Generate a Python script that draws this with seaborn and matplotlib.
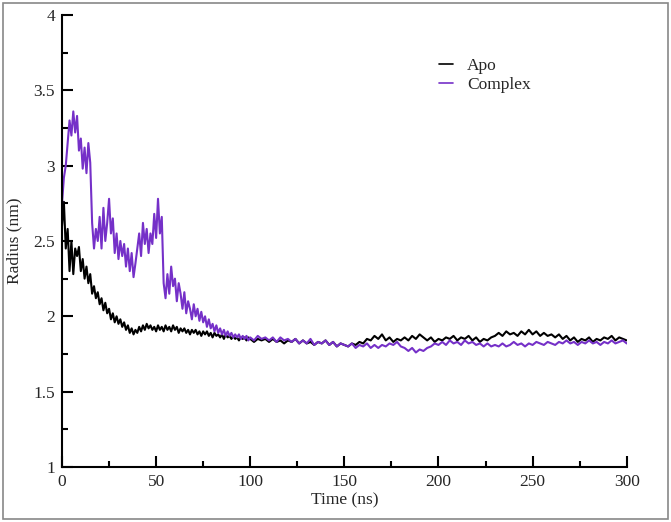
import numpy as np
import pandas as pd
import matplotlib.pyplot as plt
import seaborn as sns
from matplotlib.patches import Rectangle

# === DATA ===
TIME_EARLY = np.arange(0, 101, 1)      # 0..100 ns, 1 ns steps
TIME_LATE = np.arange(102, 301, 2)     # 102..300 ns, 2 ns steps

COMPLEX_EARLY = [
    2.75, 2.92, 3.00, 3.15, 3.30, 3.20, 3.36, 3.22, 3.33, 3.10,
    3.18, 2.98, 3.12, 2.95, 3.15, 3.02, 2.62, 2.45, 2.58, 2.50,
    2.66, 2.45, 2.72, 2.50, 2.62, 2.78, 2.55, 2.65, 2.42, 2.55,
    2.38, 2.50, 2.40, 2.48, 2.33, 2.45, 2.30, 2.42, 2.26, 2.35,
    2.45, 2.55, 2.40, 2.62, 2.48, 2.58, 2.42, 2.55, 2.48, 2.68,
    2.52, 2.78, 2.55, 2.66, 2.22, 2.12, 2.28, 2.15, 2.33, 2.20,
    2.25, 2.10, 2.22, 2.15, 2.05, 2.16, 2.02, 2.10, 2.05, 1.98,
    2.08, 2.00, 2.05, 1.97, 2.03, 1.96, 2.00, 1.93, 1.98, 1.92,
    1.95, 1.90, 1.94, 1.89, 1.92, 1.88, 1.91, 1.87, 1.90, 1.87,
    1.89, 1.86, 1.88, 1.86, 1.88, 1.85, 1.87, 1.85, 1.87, 1.84,
    1.86,
]
COMPLEX_LATE = [
    1.84, 1.87, 1.85, 1.86, 1.84, 1.86, 1.83, 1.86, 1.84, 1.85, 1.83, 1.85,
    1.82, 1.84, 1.82, 1.85, 1.81, 1.83, 1.82, 1.84, 1.81, 1.83, 1.80, 1.82, 1.81,
    1.80, 1.82, 1.79, 1.81, 1.80, 1.82, 1.79, 1.81, 1.79, 1.81, 1.80, 1.82, 1.81, 1.83, 1.80,
    1.79, 1.77, 1.79, 1.76, 1.78, 1.77, 1.79, 1.80, 1.82, 1.81,
    1.83, 1.81, 1.84, 1.82, 1.83, 1.81, 1.84, 1.82, 1.83, 1.81, 1.82, 1.80, 1.82, 1.80, 1.81,
    1.80, 1.82, 1.80, 1.81, 1.83, 1.81, 1.82, 1.80, 1.82, 1.81, 1.83, 1.82, 1.81, 1.83, 1.82,
    1.81, 1.83, 1.82, 1.84, 1.82, 1.83, 1.81, 1.83, 1.82, 1.84,
    1.82, 1.83, 1.81, 1.83, 1.82, 1.84, 1.82, 1.83, 1.84, 1.82,
]

APO_EARLY = [
    2.60, 2.76, 2.45, 2.58, 2.30, 2.50, 2.28, 2.45, 2.40, 2.46,
    2.30, 2.38, 2.25, 2.33, 2.22, 2.28, 2.15, 2.20, 2.12, 2.16,
    2.08, 2.12, 2.04, 2.09, 2.02, 2.05, 1.98, 2.02, 1.96, 2.00,
    1.95, 1.98, 1.93, 1.96, 1.91, 1.94, 1.89, 1.92, 1.88, 1.91,
    1.89, 1.93, 1.90, 1.94, 1.91, 1.95, 1.92, 1.94, 1.91, 1.93,
    1.90, 1.94, 1.91, 1.93, 1.90, 1.94, 1.91, 1.93, 1.90, 1.94,
    1.91, 1.93, 1.89, 1.92, 1.90, 1.92, 1.89, 1.91, 1.88, 1.91,
    1.89, 1.91, 1.88, 1.90, 1.87, 1.90, 1.88, 1.90, 1.87, 1.89,
    1.86, 1.89, 1.87, 1.88, 1.86, 1.88, 1.85, 1.88, 1.86, 1.87,
    1.85, 1.87, 1.85, 1.86, 1.84, 1.86, 1.85, 1.86, 1.84, 1.86,
    1.85,
]
APO_LATE = [
    1.83, 1.85, 1.84, 1.85, 1.83, 1.85, 1.83, 1.84, 1.82, 1.84, 1.83, 1.85,
    1.82, 1.84, 1.82, 1.83, 1.81, 1.83, 1.82, 1.84, 1.81, 1.83, 1.80, 1.82, 1.81,
    1.80, 1.82, 1.81, 1.83, 1.82, 1.85, 1.84, 1.87, 1.85, 1.88, 1.84, 1.86, 1.83, 1.85, 1.84,
    1.86, 1.84, 1.87, 1.85, 1.88, 1.86, 1.84, 1.86, 1.83, 1.85,
    1.84, 1.86, 1.85, 1.87, 1.84, 1.86, 1.85, 1.87, 1.84, 1.86, 1.83, 1.85, 1.84, 1.86, 1.87,
    1.89, 1.87, 1.90, 1.88, 1.89, 1.87, 1.90, 1.88, 1.91, 1.88, 1.90, 1.87, 1.89, 1.87, 1.88,
    1.86, 1.88, 1.85, 1.87, 1.84, 1.86, 1.83, 1.85, 1.84, 1.86,
    1.83, 1.85, 1.84, 1.86, 1.85, 1.87, 1.84, 1.86, 1.85, 1.84,
]

SERIES_ORDER = ["Apo", "Complex"]
COLORS = {"Apo": "#000000", "Complex": "#7530C8"}


def main():
    time = np.concatenate([TIME_EARLY, TIME_LATE])
    df = pd.concat([
        pd.DataFrame({"Time": time, "Radius": APO_EARLY + APO_LATE, "System": "Apo"}),
        pd.DataFrame({"Time": time, "Radius": COMPLEX_EARLY + COMPLEX_LATE, "System": "Complex"}),
    ], ignore_index=True)

    sns.set_style("ticks")
    plt.rcParams["font.family"] = ["Liberation Serif", "DejaVu Serif"]

    fig = plt.figure(figsize=(6.71, 5.22), dpi=100)
    ax = fig.add_axes([0.0924, 0.1054, 0.8416, 0.8659])

    sns.lineplot(data=df, x="Time", y="Radius", hue="System",
                 hue_order=SERIES_ORDER, palette=COLORS,
                 linewidth=1.5, estimator=None, sort=False, ax=ax)

    ax.set_xlim(0, 300)
    ax.set_ylim(1, 4)
    ax.set_xticks(np.arange(0, 301, 50))
    ax.set_xticks(np.arange(0, 301, 25), minor=True)
    ax.set_yticks(np.arange(1, 4.01, 0.5))
    ax.set_yticks(np.arange(1, 4.01, 0.25), minor=True)
    ax.set_yticklabels(["1", "1.5", "2", "2.5", "3", "3.5", "4"])

    ax.tick_params(which="major", direction="in", length=8, width=1.5,
                   labelsize=12.5, color="black", pad=5)
    ax.tick_params(which="minor", direction="in", length=4.5, width=1.5, color="black")
    ax.spines[["top", "right"]].set_visible(False)
    for s in ["left", "bottom"]:
        ax.spines[s].set_linewidth(1.5)
        ax.spines[s].set_color("black")

    ax.set_xlabel("Time (ns)", fontsize=12.5, labelpad=2)
    ax.set_ylabel("Radius (nm)", fontsize=12.5, labelpad=8)

    leg = ax.legend(loc="upper left", bbox_to_anchor=(0.64, 0.94), frameon=False,
                    fontsize=12.5, handlelength=0.8, handletextpad=0.8,
                    labelspacing=0.15, title=None)
    for line in leg.get_lines():
        line.set_linewidth(1.2)

    # thin grey border around the whole picture
    fig.patches.append(Rectangle((0.004, 0.005), 0.992, 0.99, transform=fig.transFigure,
                                 fill=False, edgecolor="#888888", linewidth=1.2))

    fig.savefig("out.png", dpi=100)
    plt.close(fig)


if __name__ == "__main__":
    main()
